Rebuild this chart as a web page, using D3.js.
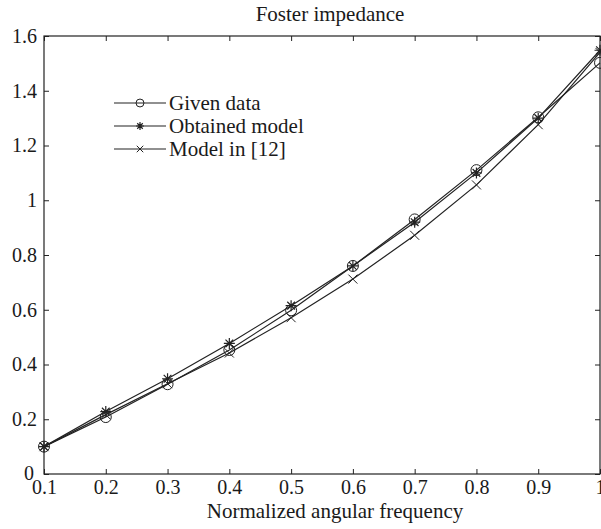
<!DOCTYPE html>
<html>
<head>
<meta charset="utf-8">
<script src="https://cdn.jsdelivr.net/npm/d3@7"></script>
<style>
  body { margin: 0; background: #fff; overflow: hidden; }
  text { font-family: "Liberation Serif", "DejaVu Serif", serif; fill: #1a1a1a; }
</style>
</head>
<body>
<script>
// data
const freq = [0.1, 0.2, 0.3, 0.4, 0.5, 0.6, 0.7, 0.8, 0.9, 1.0];
const givenData = [0.10, 0.208, 0.328, 0.453, 0.598, 0.760, 0.930, 1.110, 1.303, 1.502];
const obtainedModel = [0.10, 0.228, 0.348, 0.477, 0.615, 0.760, 0.920, 1.100, 1.300, 1.548];
const model12 = [0.10, 0.217, 0.330, 0.442, 0.571, 0.712, 0.872, 1.056, 1.276, 1.540];
const xTicks = [0.1, 0.2, 0.3, 0.4, 0.5, 0.6, 0.7, 0.8, 0.9, 1];
const yTicks = [0, 0.2, 0.4, 0.6, 0.8, 1, 1.2, 1.4, 1.6];
const seriesNames = ["Given data", "Obtained model", "Model in [12]"];

const width = 601, height = 529;
const margin = {top: 36, right: 1, bottom: 55, left: 44};

const svg = d3.select("body").append("svg")
    .attr("width", width)
    .attr("height", height);

const x = d3.scaleLinear().domain([0.1, 1]).range([margin.left, width - margin.right]);
const y = d3.scaleLinear().domain([0, 1.6]).range([height - margin.bottom, margin.top]);

// frame
svg.append("rect")
    .attr("x", x(0.1)).attr("y", y(1.6))
    .attr("width", x(1) - x(0.1)).attr("height", y(0) - y(1.6))
    .attr("fill", "none").attr("stroke", "#222").attr("stroke-width", 1.2);

// bottom axis, ticks inward
const xAxis = svg.append("g")
    .attr("transform", `translate(0,${y(0)})`)
    .call(d3.axisBottom(x).tickValues(xTicks).tickSize(-5).tickPadding(6).tickFormat(d => String(d)));
xAxis.select(".domain").remove();
xAxis.selectAll("text").attr("font-size", 20).attr("dy", "0.71em");

// top ticks
svg.append("g")
    .attr("transform", `translate(0,${y(1.6)})`)
    .call(d3.axisTop(x).tickValues(xTicks).tickSize(-5).tickFormat(""))
    .select(".domain").remove();

// left axis
const yAxis = svg.append("g")
    .attr("transform", `translate(${x(0.1)},0)`)
    .call(d3.axisLeft(y).tickValues(yTicks).tickSize(-5).tickPadding(7).tickFormat(d => String(d)));
yAxis.select(".domain").remove();
yAxis.selectAll("text").attr("font-size", 20);
yAxis.selectAll(".tick").filter(d => d === 0).select("text").attr("x", -10).attr("dy", "0.25em");

// right ticks
svg.append("g")
    .attr("transform", `translate(${x(1)},0)`)
    .call(d3.axisRight(y).tickValues(yTicks).tickSize(-5).tickFormat(""))
    .select(".domain").remove();

svg.selectAll(".tick line").attr("stroke", "#222");

// titles
svg.append("text")
    .attr("x", 330).attr("y", 21)
    .attr("text-anchor", "middle").attr("font-size", 21)
    .text("Foster impedance");

svg.append("text")
    .attr("x", 335).attr("y", 518)
    .attr("text-anchor", "middle").attr("font-size", 21)
    .text("Normalized angular frequency");

// markers
function drawCircle(g, cx, cy, k = 1) {
    g.append("circle").attr("cx", cx).attr("cy", cy).attr("r", 5.5 * k)
        .attr("fill", "none").attr("stroke", "#222").attr("stroke-width", 1);
}
function drawStar(g, cx, cy, k = 1) {
    const s = 5.5 * k;
    g.append("path")
        .attr("d", `M${cx - s},${cy}H${cx + s}M${cx},${cy - s}V${cy + s}` +
            `M${cx - s * 0.7},${cy - s * 0.7}L${cx + s * 0.7},${cy + s * 0.7}` +
            `M${cx - s * 0.7},${cy + s * 0.7}L${cx + s * 0.7},${cy - s * 0.7}`)
        .attr("stroke", "#222").attr("stroke-width", 1.2).attr("fill", "none");
}
function drawCross(g, cx, cy, k = 1) {
    const s = 4.5 * k;
    g.append("path")
        .attr("d", `M${cx - s},${cy - s}L${cx + s},${cy + s}M${cx - s},${cy + s}L${cx + s},${cy - s}`)
        .attr("stroke", "#222").attr("stroke-width", 1).attr("fill", "none");
}

const series = [
    {name: seriesNames[0], values: givenData, marker: drawCircle},
    {name: seriesNames[1], values: obtainedModel, marker: drawStar},
    {name: seriesNames[2], values: model12, marker: drawCross}
];

const line = d3.line().x((d, i) => x(freq[i])).y(d => y(d));

series.forEach(s => {
    const g = svg.append("g");
    g.append("path")
        .datum(s.values)
        .attr("d", line)
        .attr("fill", "none").attr("stroke", "#222").attr("stroke-width", 1.2);
    s.values.forEach((v, i) => s.marker(g, x(freq[i]), y(v)));
});

// legend
const legend = svg.append("g").attr("transform", "translate(114,103)");
series.forEach((s, i) => {
    const row = legend.append("g").attr("transform", `translate(0,${i * 23})`);
    row.append("line").attr("x1", 0).attr("x2", 52).attr("y1", 0).attr("y2", 0)
        .attr("stroke", "#222").attr("stroke-width", 1.2);
    s.marker(row, 26, 0, 0.72);
    row.append("text").attr("x", 55).attr("y", 0).attr("dy", "0.33em")
        .attr("font-size", 21).text(s.name);
});
</script>
</body>
</html>
